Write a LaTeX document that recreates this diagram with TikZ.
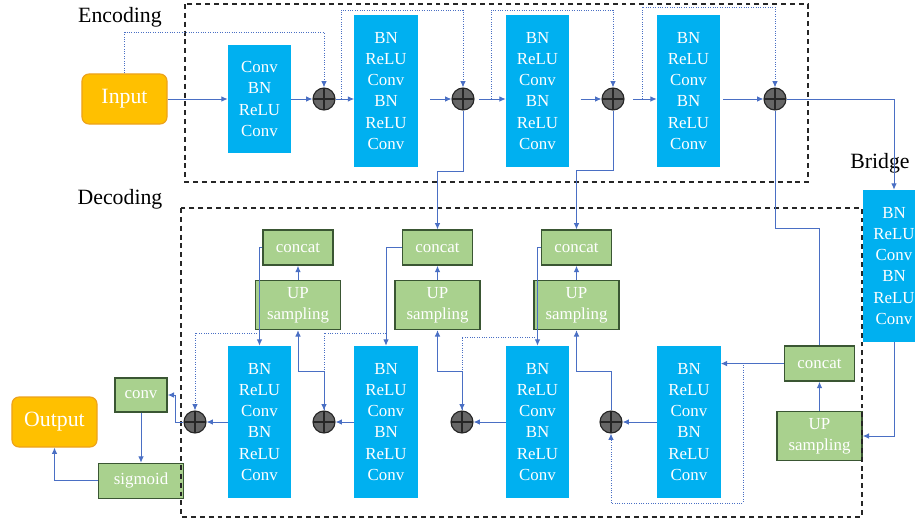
\documentclass[tikz,border=0pt]{standalone}
\usepackage{fontspec}
\setmainfont{Liberation Serif}
\usetikzlibrary{arrows.meta, positioning, calc}

\definecolor{blkblue}{HTML}{00B0F0}
\definecolor{grnfill}{HTML}{A9D18E}
\definecolor{grnline}{HTML}{3A5633}
\definecolor{iofill}{HTML}{FFC000}
\definecolor{ioline}{HTML}{EDA21A}
\definecolor{lnkblue}{HTML}{4A6FC4}
\definecolor{sumgray}{HTML}{666666}

\newcommand\blkfont{\fontsize{12}{15}\selectfont}
\newcommand\lblfont{\fontsize{15.5}{18}\selectfont}

\begin{document}
\begin{tikzpicture}[
    x=0.025cm, y=-0.025cm,
    >={Latex[length=4.5pt,width=4pt]},
    blk/.style={fill=blkblue, text=white, minimum width=1.575cm,
                minimum height=3.8cm, inner sep=0pt, align=center,
                font=\blkfont},
    io/.style={draw=ioline, fill=iofill, text=white, rounded corners=5pt,
               line width=0.8pt, minimum width=2.125cm,
               minimum height=1.25cm, font=\lblfont},
    grn/.style={draw=grnline, fill=grnfill, text=white, line width=1pt,
                inner sep=0pt, align=center, font=\blkfont},
    cat/.style={grn, minimum width=1.75cm, minimum height=0.875cm},
    up/.style={grn, minimum width=2.125cm, minimum height=1.225cm},
    sum/.style={circle, fill=sumgray, draw=black!85, line width=0.8pt,
                minimum size=0.55cm, inner sep=0pt,
                path picture={\draw[black!85, line width=0.8pt]
                  (path picture bounding box.north) --
                  (path picture bounding box.south)
                  (path picture bounding box.west) --
                  (path picture bounding box.east);}},
    lnk/.style={draw=lnkblue, line width=0.7pt, ->},
    skip/.style={lnk, densely dotted},
    grp/.style={draw=black!85, line width=1pt,
                dash pattern=on 3.5pt off 2.8pt},
    lbl/.style={font=\lblfont}
  ]
  \useasboundingbox (0,0) rectangle (915,522);

  % Encoding
  \node[lbl] (enclbl) at (120,17) {Encoding};
  \node[io] (in) at (124.5,99) {Input};
  \node[blk, minimum height=2.7cm] (e1) at (259.5,99) {Conv\\BN\\ReLU\\Conv};
  \node[sum] (s1) at (324,99) {};
  \node[blk] (e2) at (386,91) {BN\\ReLU\\Conv\\BN\\ReLU\\Conv};
  \node[sum] (s2) at (463,99) {};
  \node[blk] (e3) at (537.5,91) {BN\\ReLU\\Conv\\BN\\ReLU\\Conv};
  \node[sum] (s3) at (613,99) {};
  \node[blk] (e4) at (688.5,91) {BN\\ReLU\\Conv\\BN\\ReLU\\Conv};
  \node[sum] (s4) at (775,99) {};

  % Bridge
  \node[lbl] (brlbl) at (880,163) {Bridge};
  \node[blk, minimum width=1.55cm] (br) at (894,266)
    {BN\\ReLU\\Conv\\BN\\ReLU\\Conv};

  % Decoding
  \node[lbl] (declbl) at (120,199) {Decoding};
  \node[blk] (d1) at (259.5,422) {BN\\ReLU\\Conv\\BN\\ReLU\\Conv};
  \node[blk] (d2) at (386,422) {BN\\ReLU\\Conv\\BN\\ReLU\\Conv};
  \node[blk] (d3) at (537.5,422) {BN\\ReLU\\Conv\\BN\\ReLU\\Conv};
  \node[blk] (d4) at (689,422) {BN\\ReLU\\Conv\\BN\\ReLU\\Conv};
  \node[sum] (s5) at (195,422) {};
  \node[sum] (s6) at (324,422) {};
  \node[sum] (s7) at (462,422) {};
  \node[sum] (s8) at (611,422) {};

  \node[up] (up1) at (298,305) {UP\\sampling};
  \node[up] (up2) at (437.5,305) {UP\\sampling};
  \node[up] (up3) at (576.5,305) {UP\\sampling};
  \node[up] (up4) at (819.5,436) {UP\\sampling};
  \node[cat, above=0.35cm of up1] (cat1) {concat};
  \node[cat, above=0.35cm of up2] (cat2) {concat};
  \node[cat, above=0.35cm of up3] (cat3) {concat};
  \node[cat, above=0.725cm of up4] (cat4) {concat};

  \node[grn, minimum width=1.3cm, minimum height=0.85cm] (conv) at (141,395) {conv};
  \node[grn, minimum width=2.125cm, minimum height=0.875cm,
        below=1.25cm of conv] (sig) {sigmoid};
  \node[io] (out) at (54.5,422) {Output};

  % group frames
  \draw[grp] (185,4) rectangle (808,182);
  \draw[grp] (181,208) rectangle (862,517);

  % encoding path
  \draw[lnk] (in) -- (e1);
  \draw[lnk] (e1) -- (s1);
  \draw[lnk] (s1) -- (s1 -| e2.west);
  \draw[lnk, shorten <=9pt] (e2.east |- s2) -- (s2);
  \draw[lnk, shorten <=3pt] (s2) -- (s2 -| e3.west);
  \draw[lnk, shorten <=8pt] (e3.east |- s3) -- (s3);
  \draw[lnk, shorten <=6pt] (s3) -- (s3 -| e4.west);
  \draw[lnk, shorten <=2pt] (e4.east |- s4) -- (s4);
  \draw[lnk] (s4) -| (br.north);

  % shortcuts
  \coordinate (k1) at (341,99);
  \coordinate (k2) at (491,99);
  \coordinate (k3) at (642,99);
  \draw[skip] (in.north) -- ++(0,-41) -| (s1.north);
  \draw[skip] (k1) -- ++(0,-89) -| (s2.north);
  \draw[skip] (k2) -- ++(0,-89) -| (s3.north);
  \draw[skip] (k3) -- ++(0,-92) -| (s4.north);

  % to decoder
  \draw[lnk] (s2.south) -- ++(0,61) -| (cat2.north);
  \draw[lnk] (s3.south) -- ++(0,60) -| (cat3.north);
  \draw[lnk, -] (s4.south) -- ++(0,118) -| (cat4.north);

  % decoding path
  \draw[lnk] (br.south) |- (up4.east);
  \draw[lnk] (up4) -- (cat4);
  \draw[lnk] (cat4.west) -- (cat4.west -| d4.east);
  \coordinate (t4) at (743,365);
  \draw[skip] (t4) -- ++(0,138) -| (s8.south);
  \draw[lnk] (d4) -- (s8);
  \draw[lnk] (s8.north) -- ++(0,-39) -| (up3.south);
  \draw[lnk] (up3) -- (cat3);
  \draw[lnk] (cat3.west) -| (d3.north);
  \coordinate (t3) at (537.5,337);
  \draw[skip] (t3) -| (s7.north);
  \draw[lnk] (d3) -- (s7);
  \draw[lnk] (s7.north) -- ++(0,-39) -| (up2.south);
  \draw[lnk] (up2) -- (cat2);
  \draw[lnk] (cat2.west) -| (d2.north);
  \coordinate (t2) at (386,333);
  \draw[skip] (t2) -| (s6.north);
  \draw[lnk] (d2) -- (s6);
  \draw[lnk] (s6.north) -- ++(0,-39) -| (up1.south);
  \draw[lnk] (up1) -- (cat1);
  \draw[lnk] (cat1.west) -| (d1.north);
  \coordinate (t1) at (259.5,333);
  \draw[skip] (t1) -| (s5.north);
  \draw[lnk] (d1) -- (s5);
  \draw[lnk] (s5.west) -- ++(-8,0) |- (conv.east);
  \draw[lnk] (conv) -- (sig);
  \draw[lnk] (sig.west) -| (out.south);
\end{tikzpicture}
\end{document}
